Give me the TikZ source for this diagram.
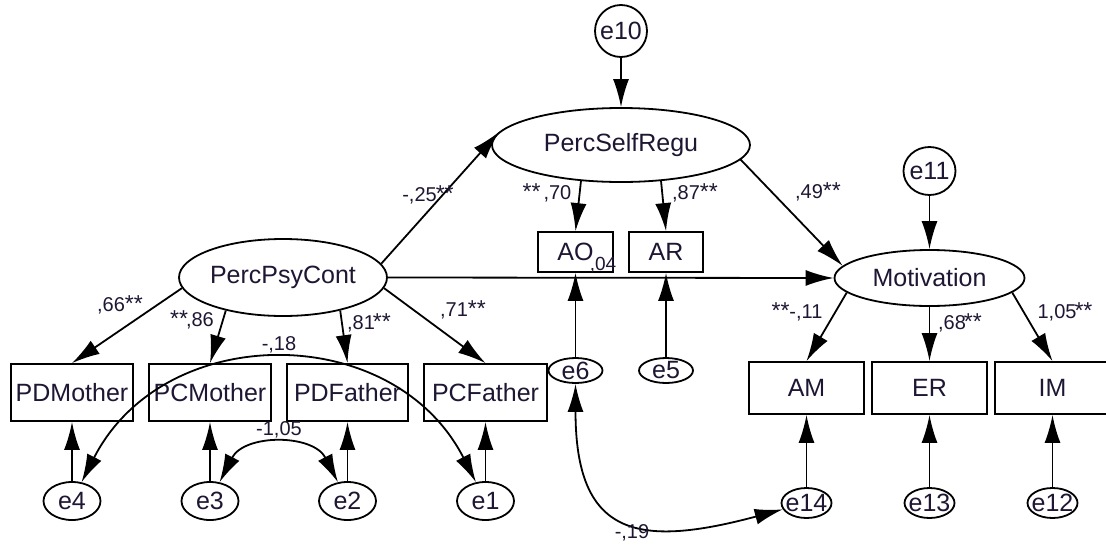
\documentclass[tikz,border=0pt]{standalone}
\usepackage{fontspec}
\setmainfont{Liberation Sans}
\usetikzlibrary{shapes.geometric,arrows.meta}
\definecolor{txt}{RGB}{30,22,50}
\newcommand\fntA{\fontsize{25}{28}\selectfont}
\newcommand\fntB{\fontsize{20}{22}\selectfont}
\newcommand\fntC{\fontsize{19}{21}\selectfont}
\newcommand\sts{{\fontsize{23}{23}\selectfont **}}
\begin{document}
\begin{tikzpicture}[x=1pt,y=-1pt, line width=1.8pt,
  >={Latex[length=28pt,width=16pt]},
  box/.style={draw, rectangle, fill=white, inner sep=0pt, font=\fntA, text=txt},
  lv/.style={draw, ellipse, fill=white, inner sep=0pt, font=\fntA, text=txt},
  lab/.style={font=\fntB, text=txt, inner sep=0pt},
  every label/.style={font=\fntA, text=txt, inner sep=0pt}]
\useasboundingbox (0,0) rectangle (1106,544);

% latent variables
\node[lv, minimum width=258, minimum height=74] (PSR) at (621,145) {PercSelfRegu};
\node[lv, minimum width=208, minimum height=77] (PPC) at (283,277.5) {PercPsyCont};
\node[lv, minimum width=190, minimum height=56] (Mot) at (929.5,278) {Motivation};
\node[lv, minimum width=52, minimum height=52, label=center:e10] (e10) at (621,31) {};
\node[lv, minimum width=52, minimum height=48, label=center:e11] (e11) at (929.5,171) {};

% observed
\node[box, minimum width=122, minimum height=57] (PDM) at (72,392.5) {PDMother};
\node[box, minimum width=122, minimum height=57] (PCM) at (210,392.5) {PCMother};
\node[box, minimum width=121, minimum height=57] (PDF) at (347.5,392.5) {PDFather};
\node[box, minimum width=123, minimum height=57] (PCF) at (485.5,392.5) {PCFather};
\node[box, minimum width=75, minimum height=40] (AO) at (575.5,252) {AO};
\node[box, minimum width=74, minimum height=40] (AR) at (666,252) {AR};
\node[box, minimum width=115, minimum height=52] (AM) at (806.5,388) {AM};
\node[box, minimum width=115, minimum height=52] (ER) at (929.5,388) {ER};
\node[box, minimum width=115, minimum height=52] (IM) at (1052.5,388) {IM};

% error terms
\node[lv, minimum width=57, minimum height=38, label=center:e4] (e4) at (72,501) {};
\node[lv, minimum width=57, minimum height=38, label=center:e3] (e3) at (210,501) {};
\node[lv, minimum width=57, minimum height=38, label=center:e2] (e2) at (347.5,501) {};
\node[lv, minimum width=57, minimum height=38, label=center:e1] (e1) at (485.5,501) {};
\node[lv, minimum width=54, minimum height=25, label=center:e6] (e6) at (575.5,370.5) {};
\node[lv, minimum width=54, minimum height=25, label=center:e5] (e5) at (666,370.5) {};
\node[lv, minimum width=50, minimum height=30, label=center:e14] (e14) at (806.5,503) {};
\node[lv, minimum width=50, minimum height=30, label=center:e13] (e13) at (929.5,503) {};
\node[lv, minimum width=50, minimum height=30, label=center:e12] (e12) at (1052.5,503) {};

% structural paths
\draw[->] (e10) -- (PSR);
\draw[->] (e11) -- (Mot);
\draw[->] (PPC.8) -- (PSR.174);
\draw[->] (PSR.353) -- (Mot.172);
\draw[->] (PPC.east) -- (Mot.west);

% loadings
\draw[->] (PSR.222) -- (AO.north);
\draw[->] (PSR.318) -- (AR.north);
\draw[->] (PPC.186) -- (PDM.north);
\draw[->] (PPC.210) -- (PCM.north);
\draw[->] (PPC.330) -- (PDF.north);
\draw[->] (PPC.354) -- (PCF.north);
\draw[->] (Mot.190) -- (AM.north);
\draw[->] (Mot) -- (ER);
\draw[->] (Mot.350) -- (IM.north);

% errors to indicators
\draw[->] (e4) -- (PDM);
\draw[->] (e3) -- (PCM);
\draw[->] (e2) -- (PDF);
\draw[->] (e1) -- (PCF);
\draw[->] (e6) -- (AO);
\draw[->] (e5) -- (AR);
\draw[->] (e14) -- (AM);
\draw[->] (e13) -- (ER);
\draw[->] (e12) -- (IM);

% covariances
\draw[<->] (e4) to[out=63, in=117, looseness=1.18] (e1);
\draw[<->] (e3) to[out=63, in=117, looseness=1.18] (e2);
\draw[<->] (e6) to[out=-90, in=195, looseness=1.6] (e14);

% coefficient labels
\node[lab] (l66) at (120,305) {,66\sts};
\node[lab] (l86) at (192,320) {\sts\kern-2pt,86};
\node[lab] (l81) at (369,323) {,81\kern-2pt\sts};
\node[lab] (l71) at (463,310) {,71\sts};
\node[lab] (l25) at (428,195) {-,25\kern-1pt\sts};
\node[lab] (l70) at (547,193) {\sts\kern3pt,70};
\node[lab] (l87) at (695,193) {,87\sts};
\node[lab] (l49) at (818,192) {,49\sts};
\node[lab] (l11) at (797,312) {\sts\kern0pt-,11};
\node[lab] (l68) at (960,323) {,68\kern-2pt\sts};
\node[lab] (l105) at (1065,312) {1,05\kern-2pt\sts};
\node[lab] (l18) at (279,345) {-,18};
\node[lab] (l105b) at (279,430) {-1,05};
\node[lab] (l19) at (632,533) {-,19};
\node[lab, font=\fntC] (l04) at (603,265) {,04};
\end{tikzpicture}
\end{document}
